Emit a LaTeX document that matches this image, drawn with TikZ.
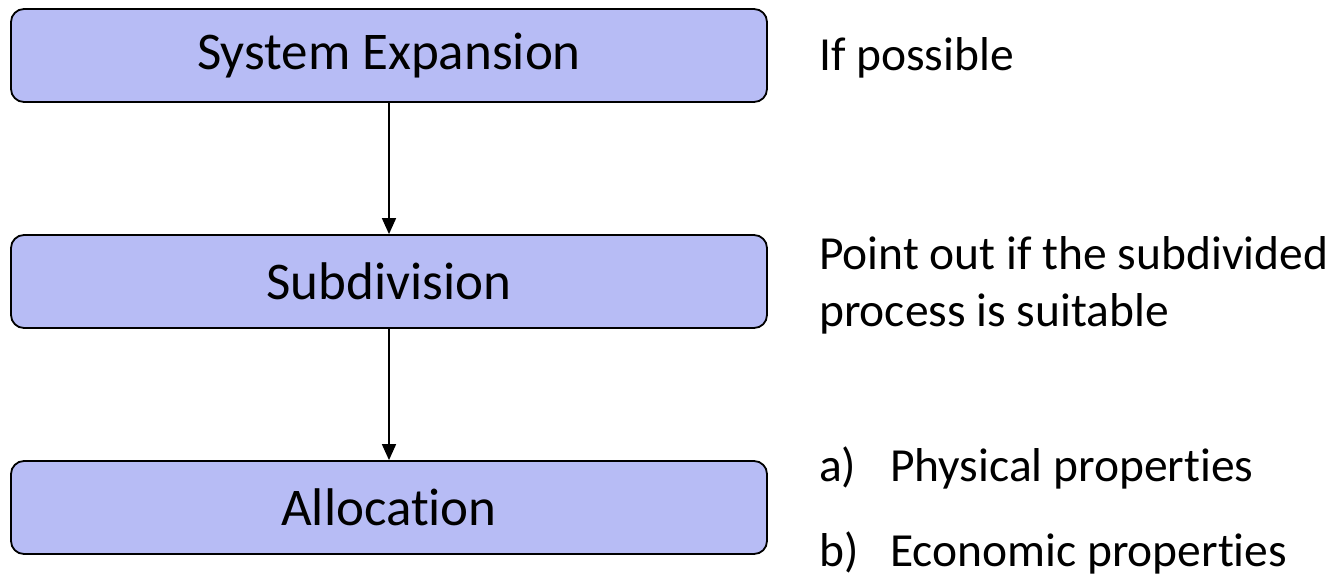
\documentclass[tikz,border=0pt]{standalone}
\usepackage{fontspec}
\setmainfont{Carlito}[Ligatures=NoCommon]
\usetikzlibrary{positioning, arrows.meta}

\begin{document}
\begin{tikzpicture}[x=1pt, y=-1pt,
    stage/.style={draw=black, line width=1.8pt, rounded corners=13pt, fill={rgb,255:red,183;green,188;blue,245},
      minimum width=756pt, minimum height=93pt, font=\fontsize{53}{60}\selectfont},
    note/.style={anchor=west, align=left, inner sep=0pt, font=\fontsize{47.5}{57}\selectfont}]
    % Rahmen
    \useasboundingbox (0, 0) rectangle (1335, 576);
    
    % Stufen
    \node[stage] (expansion) at (389, 55.5) {System Expansion};
    \node[stage] (subdivision) at (389, 281.5) {Subdivision};
    \node[stage] (allocation) at (389, 507.5) {Allocation};
    
    % Pfeile
    \draw[-{Triangle[length=16pt, width=14pt]}, line width=1.6pt] (expansion) -- (subdivision);
    \draw[-{Triangle[length=16pt, width=14pt]}, line width=1.6pt] (subdivision) -- (allocation);
    
    % Hinweise
    \node[note] (possible) at (819, 58) {If possible};
    \node[note] (suitable) at (819, 285) {Point out if the subdivided\\process is suitable};
    \node[note] (physical) at (819, 468) {\makebox[71pt][l]{a)}Physical properties};
    \node[note] (economic) at (819, 553) {\makebox[71pt][l]{b)}Economic properties};
  \end{tikzpicture}
\end{document}
